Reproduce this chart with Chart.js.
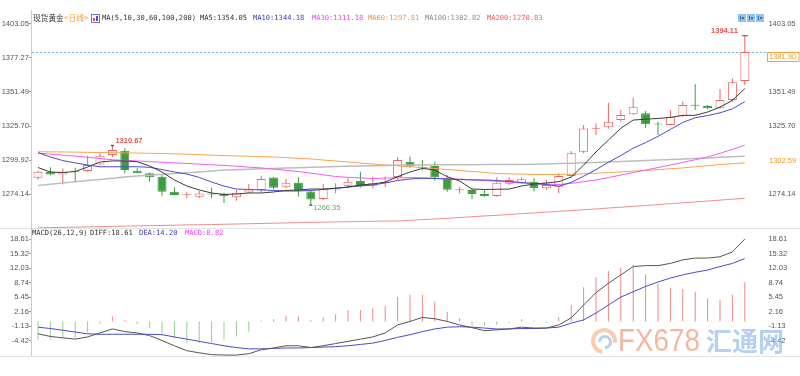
<!DOCTYPE html>
<html>
<head>
<meta charset="utf-8">
<script src="https://cdn.jsdelivr.net/npm/chart.js@4.4.1/dist/chart.umd.min.js"></script>
<style>
  html, body { margin: 0; padding: 0; background: #fff; }
  #wrap { position: relative; width: 800px; height: 376px; overflow: hidden; background: #fff; }
  #macdChart { position: absolute; left: 0; top: 217px; }
  #priceChart { position: absolute; left: 0; top: 0; }
</style>
</head>
<body>
<div id="wrap">
  <canvas id="macdChart" width="800" height="159"></canvas>
  <canvas id="priceChart" width="800" height="240"></canvas>
</div>
<script>
// daily candles
const days = Array.from({ length: 58 }, (_, i) => String(i + 1));
const slots = days.concat(['']); // one empty slot on the right

const opens = [1286.5, 1290.9, 1289.0, 1291.2, 1291.6, 1296.6, 1303.7, 1307.0, 1291.8, 1289.8,
  1287.3, 1275.9, 1273.2, 1272.1, 1274.2, 1274.4, 1271.6, 1275.3, 1277.2, 1286.6,
  1279.7, 1282.6, 1276.0, 1270.3, 1277.6, 1280.4, 1284.0, 1280.4, 1282.5, 1287.0,
  1298.6, 1294.6, 1295.4, 1286.0, 1277.0, 1277.2, 1274.1, 1272.6, 1282.0, 1282.7,
  1283.5, 1278.5, 1279.7, 1287.8, 1306.2, 1323.6, 1324.7, 1330.2, 1334.6, 1335.3,
  1327.3, 1326.5, 1333.5, 1341.6, 1340.8, 1339.6, 1345.5, 1359.8];
const highs = [1291.8, 1294.4, 1293.5, 1294.0, 1303.1, 1305.5, 1310.67, 1308.8, 1293.6, 1290.4,
  1288.5, 1279.2, 1275.9, 1276.4, 1279.0, 1275.0, 1277.4, 1281.7, 1288.0, 1287.0,
  1285.6, 1287.0, 1276.5, 1281.7, 1282.2, 1286.0, 1291.0, 1287.3, 1287.5, 1302.2,
  1302.5, 1299.9, 1298.6, 1288.5, 1279.7, 1278.2, 1277.2, 1286.8, 1286.8, 1286.8,
  1286.0, 1284.8, 1289.8, 1306.7, 1326.5, 1327.7, 1343.4, 1337.8, 1347.2, 1337.0,
  1329.0, 1337.8, 1344.1, 1357.3, 1341.6, 1353.7, 1361.8, 1394.11];
const lows = [1285.0, 1288.4, 1281.5, 1284.0, 1291.0, 1296.0, 1302.2, 1289.8, 1289.8, 1283.5,
  1272.8, 1273.0, 1270.9, 1270.9, 1270.9, 1267.3, 1269.1, 1274.7, 1275.0, 1277.5,
  1278.5, 1272.0, 1266.35, 1269.6, 1274.7, 1278.9, 1279.0, 1278.5, 1279.5, 1284.8,
  1294.0, 1292.0, 1284.2, 1275.9, 1274.7, 1270.1, 1272.0, 1272.1, 1281.0, 1281.5,
  1276.0, 1277.3, 1274.7, 1287.3, 1305.0, 1318.9, 1323.9, 1329.0, 1334.0, 1324.4,
  1318.9, 1326.0, 1332.8, 1337.8, 1338.4, 1338.7, 1344.1, 1356.8];
const closes = [1291.0, 1289.0, 1291.0, 1290.6, 1296.1, 1303.1, 1307.5, 1292.3, 1289.9, 1286.8,
  1275.9, 1273.4, 1273.5, 1274.6, 1273.7, 1272.4, 1275.1, 1277.5, 1285.6, 1278.9,
  1282.7, 1276.6, 1270.0, 1277.7, 1278.1, 1283.5, 1280.3, 1282.7, 1283.1, 1299.9,
  1295.4, 1293.6, 1286.8, 1277.3, 1277.4, 1274.1, 1272.6, 1282.7, 1284.7, 1285.3,
  1278.5, 1281.0, 1287.8, 1305.0, 1323.9, 1324.1, 1329.0, 1334.0, 1340.3, 1327.0,
  1326.8, 1332.8, 1341.6, 1341.0, 1339.1, 1345.4, 1358.8, 1381.9];

// moving averages as drawn
const ma5 = [1294.2, 1290.8, 1290.4, 1291.2, 1294.6, 1298.4, 1299.2, 1299.2, 1298.6, 1295.4,
  1290.8, 1284.8, 1280.2, 1277.2, 1274.9, 1273.8, 1274.1, 1274.9, 1274.9, 1275.7,
  1276.8, 1277.2, 1277.9, 1277.9, 1278.5, 1279.4, 1281.0, 1281.7, 1283.2, 1287.3,
  1290.8, 1293.6, 1292.3, 1287.3, 1284.0, 1277.9, 1277.6, 1277.7, 1277.9, 1280.2,
  1281.7, 1282.5, 1283.5, 1287.0, 1296.0, 1306.0, 1315.0, 1324.0, 1330.2, 1330.9,
  1331.4, 1332.2, 1333.7, 1333.8, 1336.3, 1340.0, 1345.2, 1354.05];
const ma10 = [1305.5, 1302.2, 1299.5, 1297.7, 1296.1, 1294.8, 1294.8, 1294.8, 1294.8, 1294.4,
  1292.7, 1290.8, 1289.3, 1286.7, 1283.2, 1280.2, 1277.9, 1277.6, 1277.2, 1276.8,
  1276.4, 1276.4, 1276.8, 1277.6, 1278.5, 1279.4, 1280.2, 1281.0, 1282.5, 1284.4,
  1285.5, 1286.1, 1285.9, 1285.5, 1285.1, 1284.8, 1284.8, 1284.4, 1283.6, 1282.9,
  1282.0, 1281.3, 1280.1, 1282.9, 1287.6, 1292.6, 1298.2, 1303.3, 1308.9, 1313.1,
  1317.9, 1323.1, 1328.4, 1332.0, 1333.6, 1335.7, 1338.7, 1344.18];
const ma30 = [1305.1, 1304.4, 1303.6, 1302.9, 1302.0, 1301.0, 1300.1, 1299.6, 1299.2, 1298.7,
  1298.2, 1297.8, 1297.3, 1296.8, 1296.3, 1295.8, 1295.2, 1294.5, 1293.9, 1293.0,
  1292.1, 1291.2, 1290.0, 1288.7, 1287.4, 1286.8, 1286.3, 1286.0, 1286.2, 1286.4,
  1286.6, 1286.4, 1286.1, 1285.9, 1285.4, 1284.9, 1284.4, 1283.8, 1283.1, 1282.5,
  1282.1, 1281.7, 1281.3, 1282.2, 1283.5, 1284.8, 1286.6, 1288.5, 1290.4, 1292.3,
  1294.2, 1296.1, 1298.1, 1300.1, 1302.2, 1305.0, 1308.0, 1311.18];
const ma60 = [1306.2, 1306.1, 1306.0, 1305.9, 1305.7, 1305.6, 1305.5, 1305.3, 1305.2, 1305.0,
  1304.9, 1304.6, 1304.3, 1304.0, 1303.6, 1303.3, 1303.0, 1302.8, 1302.5, 1302.2,
  1301.7, 1301.2, 1300.7, 1299.9, 1299.2, 1298.4, 1297.6, 1296.9, 1296.1, 1295.5,
  1294.8, 1294.2, 1293.5, 1292.7, 1292.0, 1291.2, 1290.5, 1289.7, 1289.4, 1289.2,
  1288.9, 1288.9, 1289.0, 1289.1, 1289.5, 1289.9, 1290.4, 1290.9, 1291.5, 1292.0,
  1292.6, 1293.3, 1293.9, 1294.8, 1295.6, 1296.5, 1297.1, 1297.81];
const ma100 = [1280.6, 1281.6, 1282.5, 1283.4, 1284.3, 1285.2, 1286.1, 1287.0, 1287.7, 1288.4,
  1289.1, 1289.7, 1290.3, 1290.9, 1291.6, 1292.3, 1292.6, 1292.9, 1293.2, 1293.5,
  1293.8, 1294.1, 1294.4, 1294.7, 1294.9, 1295.1, 1295.3, 1295.6, 1295.8, 1296.1,
  1296.2, 1296.2, 1296.3, 1296.3, 1296.4, 1296.4, 1296.5, 1296.5, 1296.6, 1296.6,
  1296.7, 1296.9, 1297.2, 1297.5, 1297.8, 1298.1, 1298.4, 1298.7, 1299.1, 1299.5,
  1299.9, 1300.3, 1300.7, 1301.1, 1301.5, 1302.0, 1302.4, 1302.82];
const ma200 = [1248.5, 1248.7, 1248.9, 1249.0, 1249.2, 1249.4, 1249.6, 1249.8, 1249.9, 1250.1,
  1250.3, 1250.5, 1250.7, 1250.8, 1251.0, 1251.2, 1251.4, 1251.6, 1251.8, 1252.0,
  1252.2, 1252.4, 1252.6, 1252.8, 1253.0, 1253.1, 1253.3, 1253.5, 1253.6, 1253.7,
  1254.2, 1254.7, 1255.2, 1255.7, 1256.3, 1256.9, 1257.5, 1258.0, 1258.6, 1259.2,
  1259.8, 1260.4, 1261.0, 1261.6, 1262.2, 1262.8, 1263.5, 1264.1, 1264.8, 1265.4,
  1266.1, 1266.8, 1267.4, 1268.1, 1268.8, 1269.5, 1270.2, 1270.83];

// MACD(26,12,9)
const diff = [-2.8, -3.4, -3.7, -4.0, -3.5, -2.6, -1.7, -2.3, -2.6, -3.2,
  -4.3, -5.5, -6.6, -7.1, -7.5, -7.6, -7.6, -7.3, -6.4, -6.0,
  -5.5, -5.5, -5.9, -5.5, -5.0, -4.5, -4.0, -3.5, -2.6, -0.8,
  0.0, 0.9, 0.6, 0.0, -0.8, -1.4, -2.1, -1.9, -1.7, -1.3,
  -1.5, -1.5, -0.8, 0.8, 3.7, 6.5, 8.6, 10.5, 12.4, 12.6,
  12.6, 13.1, 13.9, 14.3, 14.3, 14.6, 15.7, 18.61];
const dea = [-1.3, -1.6, -2.0, -2.4, -2.8, -2.9, -2.9, -2.9, -2.9, -2.9,
  -3.0, -3.5, -4.0, -4.5, -5.0, -5.5, -5.9, -6.2, -6.2, -6.1,
  -6.0, -6.0, -5.9, -5.8, -5.7, -5.5, -5.2, -4.9, -4.3, -3.6,
  -3.0, -2.3, -1.7, -1.3, -1.2, -1.3, -1.5, -1.7, -1.7, -1.6,
  -1.6, -1.5, -1.3, -0.4, 0.35, 1.9, 3.7, 5.5, 6.7, 7.9,
  8.9, 9.8, 10.5, 11.1, 11.6, 12.4, 13.1, 14.2];
const macdHist = [-4.1, -4.1, -3.8, -3.8, -2.5, -0.6, 1.1, 0.4, -0.6, -1.5,
  -2.8, -3.8, -4.9, -4.9, -4.75, -4.1, -3.4, -2.3, 0.2, 0.5,
  1.3, 1.1, 0.3, 0.9, 1.6, 2.5, 2.6, 3.0, 3.4, 5.5,
  6.0, 6.0, 4.5, 2.2, 0.7, -1.0, -1.0, -0.8, -0.4, 0.5,
  0.2, -0.3, 1.0, 3.7, 7.7, 10.0, 11.4, 12.2, 12.7, 10.6,
  8.5, 7.5, 7.3, 6.7, 5.2, 4.9, 6.0, 8.82];

// axis tick labels
const priceTicksLeft = [1274.14, 1299.92, 1325.70, 1351.49, 1377.27, 1403.05];
const priceTicksRight = [1274.14, 1325.70, 1351.49, 1403.05];
const macdTicks = [-4.42, -1.13, 2.16, 5.45, 8.74, 12.03, 15.32, 18.61];
const sideMark = 1302.59;

const RED = '#ec6464';
const GREEN = '#3f9b3f';
const MONO = "7.1px 'DejaVu Sans Mono', monospace";
const CJK = "7.7px 'Noto Sans CJK SC', sans-serif";
const axisFont = { family: "'Liberation Sans', Arial, sans-serif", size: 7.5 };

const up = opens.map((o, i) => closes[i] >= o);

function fixedTicks(values) {
  return scale => { scale.ticks = values.map(v => ({ value: v })); };
}

function leftAxis(min, max, ticks) {
  return {
    position: 'left', min: min, max: max,
    afterFit: s => { s.width = 31.8; },
    afterBuildTicks: fixedTicks(ticks),
    ticks: { autoSkip: false, padding: 0, color: '#555', font: axisFont, callback: v => Number(v).toFixed(2) },
    grid: { display: true, drawOnChartArea: false, drawTicks: true, tickLength: 3, color: '#999' },
    border: { display: true, color: '#c3ccd8', dash: [2, 2] }
  };
}

function rightAxis(min, max, ticks) {
  return {
    position: 'right', min: min, max: max,
    afterFit: s => { s.width = 36.6; },
    afterBuildTicks: fixedTicks(ticks),
    ticks: { autoSkip: false, padding: 5, color: '#555', font: axisFont, callback: v => Number(v).toFixed(2) },
    grid: { display: false, drawTicks: false },
    border: { display: false }
  };
}

function maLine(label, data, color, width) {
  return {
    type: 'line', label: label, data: data, borderColor: color, borderWidth: width || 1,
    pointRadius: 0, tension: 0, fill: false, order: 0
  };
}

function drawRun(ctx, y, parts) {
  parts.forEach(p => {
    ctx.font = p.f;
    ctx.fillStyle = p.c;
    ctx.fillText(p.t, p.x, y);
  });
}

const priceOverlay = {
  id: 'priceOverlay',
  beforeDatasetsDraw(chart) {
    const { ctx, chartArea, scales: { y } } = chart;
    const yc = Math.round(y.getPixelForValue(closes[closes.length - 1])) + 0.5;
    ctx.save();
    ctx.strokeStyle = '#6cb4ef';
    ctx.lineWidth = 1;
    ctx.setLineDash([2, 2]);
    ctx.beginPath();
    ctx.moveTo(chartArea.left, yc);
    ctx.lineTo(766, yc);
    ctx.stroke();
    ctx.restore();
  },
  afterDraw(chart) {
    const { ctx, scales: { x, y } } = chart;
    const last = closes.length - 1;
    ctx.save();
    ctx.textBaseline = 'middle';
    ctx.textAlign = 'left';

    // header line
    drawRun(ctx, 18.5, [
      { t: '现货黄金', x: 33, c: '#333', f: CJK },
      { t: '<', x: 64, c: '#f59a2f', f: MONO },
      { t: '日线', x: 68.5, c: '#f59a2f', f: CJK },
      { t: '>', x: 84, c: '#f59a2f', f: MONO },
      { t: 'MA(5,10,30,60,100,200)', x: 102, c: '#333', f: MONO },
      { t: 'MA5:' + ma5[last].toFixed(2), x: 200, c: '#333', f: MONO },
      { t: 'MA10:' + ma10[last].toFixed(2), x: 253, c: '#3c3cc4', f: MONO },
      { t: 'MA30:' + ma30[last].toFixed(2), x: 312, c: '#f040f0', f: MONO },
      { t: 'MA60:' + ma60[last].toFixed(2), x: 368, c: '#f7963a', f: MONO },
      { t: 'MA100:' + ma100[last].toFixed(2), x: 425, c: '#8c8c8c', f: MONO },
      { t: 'MA200:' + ma200[last].toFixed(2), x: 487, c: '#ec5a5a', f: MONO }
    ]);
    // small indicator icon
    ctx.fillStyle = '#7b6fd0';
    ctx.fillRect(91, 14, 9, 9);
    ctx.fillStyle = '#fff';
    ctx.fillRect(92, 15, 7, 7);
    ctx.fillStyle = '#e05050';
    ctx.fillRect(93, 18, 2, 3);
    ctx.fillStyle = '#5050c8';
    ctx.fillRect(96, 16, 2, 5);
    // toolbar icons top right
    [738, 747, 756].forEach(ix => {
      ctx.fillStyle = '#8fc3ec';
      ctx.fillRect(ix, 14, 8, 8);
      ctx.fillStyle = '#3b6fa8';
      ctx.fillRect(ix + 2, 16, 1, 4);
      ctx.fillRect(ix + 4, 17, 2, 2);
    });

    // extreme marks
    ctx.font = "bold 7.5px 'Liberation Sans', Arial, sans-serif";
    const h6 = y.getPixelForValue(highs[6]);
    const x6 = x.getPixelForValue(6);
    ctx.fillStyle = '#555';
    ctx.fillRect(x6 - 1.5, h6 - 1, 3, 1.5);
    ctx.fillStyle = '#e65050';
    ctx.fillText(highs[6].toFixed(2), x6 + 3, h6 - 5);

    const l22 = y.getPixelForValue(lows[22]);
    const x22 = x.getPixelForValue(22);
    ctx.fillStyle = '#555';
    ctx.fillRect(x22 - 1.5, l22, 3, 1.5);
    ctx.fillStyle = '#5fb25f';
    ctx.font = "7.5px 'Liberation Sans', Arial, sans-serif";
    ctx.fillText(lows[22].toFixed(2), x22 + 2.5, l22 + 4);

    const hl = y.getPixelForValue(highs[last]);
    const xl = x.getPixelForValue(last);
    ctx.fillStyle = '#555';
    ctx.fillRect(xl - 3, hl - 0.5, 6, 1);
    ctx.fillStyle = '#e65050';
    ctx.font = "bold 7.5px 'Liberation Sans', Arial, sans-serif";
    ctx.textAlign = 'right';
    ctx.fillText(highs[last].toFixed(2), xl - 7, hl - 4.5);

    // last price box and side mark on the right axis
    ctx.textAlign = 'left';
    ctx.textBaseline = 'top';
    const yc = Math.round(y.getPixelForValue(closes[last])) + 0.5;
    ctx.fillStyle = '#fff';
    ctx.fillRect(767, yc, 32, 9);
    ctx.strokeStyle = '#f3a33f';
    ctx.lineWidth = 1;
    ctx.strokeRect(767.5, yc, 31.5, 9);
    ctx.font = "7.5px 'Liberation Sans', Arial, sans-serif";
    ctx.fillStyle = '#f0962a';
    ctx.fillText(closes[last].toFixed(2), 769, yc + 1);
    ctx.fillText(sideMark.toFixed(2), 769, y.getPixelForValue(sideMark) + 0.5);
    ctx.restore();
  }
};

const OY = 217; // page offset of the MACD canvas
const macdOverlay = {
  id: 'macdOverlay',
  afterDraw(chart) {
    const { ctx } = chart;
    const last = diff.length - 1;
    ctx.save();
    ctx.strokeStyle = '#e4e4e4';
    ctx.lineWidth = 1;
    ctx.beginPath();
    ctx.moveTo(0, 228.5 - OY); ctx.lineTo(800, 228.5 - OY);
    ctx.moveTo(0, 356.5 - OY); ctx.lineTo(800, 356.5 - OY);
    ctx.stroke();

    ctx.textBaseline = 'middle';
    drawRun(ctx, 233.5 - OY, [
      { t: 'MACD(26,12,9)', x: 32, c: '#333', f: MONO },
      { t: 'DIFF:' + diff[last].toFixed(2), x: 90, c: '#333', f: MONO },
      { t: 'DEA:' + dea[last].toFixed(2), x: 139, c: '#3c3cc4', f: MONO },
      { t: 'MACD:' + macdHist[last].toFixed(2), x: 185, c: '#f040f0', f: MONO }
    ]);

    // watermark
    const cx = 604, cy = 341 - OY;
    ctx.lineWidth = 4;
    ctx.strokeStyle = 'rgba(245,160,110,0.55)';
    ctx.beginPath(); ctx.arc(cx, cy, 11, Math.PI * 0.55, Math.PI * 2.05); ctx.stroke();
    ctx.lineWidth = 3;
    ctx.strokeStyle = 'rgba(125,170,225,0.55)';
    ctx.beginPath(); ctx.arc(cx + 1, cy + 1, 5.5, Math.PI * 1.0, Math.PI * 2.5); ctx.stroke();
    const g = ctx.createLinearGradient(618, 0, 700, 0);
    g.addColorStop(0, 'rgba(248,196,150,0.75)');
    g.addColorStop(1, 'rgba(242,150,120,0.7)');
    ctx.fillStyle = g;
    ctx.font = "32px 'Liberation Sans', Arial, sans-serif";
    ctx.textAlign = 'left';
    ctx.fillText('FX678', 618, cy + 1, 82);
    ctx.fillStyle = 'rgba(150,190,232,0.7)';
    ctx.font = "bold 26px 'Noto Sans CJK SC', sans-serif";
    ctx.fillText('汇通网', 706, cy, 78);
    ctx.restore();
  }
};

const PMIN = 1248.36, PMAX = 1413.66;
new Chart(document.getElementById('priceChart'), {
  type: 'bar',
  data: {
    labels: slots,
    datasets: [
      maLine('MA5', ma5, '#3c3c3c'),
      maLine('MA10', ma10, '#4a4acb'),
      maLine('MA30', ma30, '#f25cf2'),
      maLine('MA60', ma60, '#f8a54c'),
      maLine('MA100', ma100, '#bdbdbd', 1.5),
      maLine('MA200', ma200, '#ee8c8c'),
      {
        label: 'body',
        data: opens.map((o, i) => [o, closes[i]]),
        backgroundColor: up.map(u => u ? '#fff' : GREEN),
        borderColor: up.map(u => u ? RED : GREEN),
        borderWidth: 1, borderSkipped: false, inflateAmount: 0,
        barThickness: 9, minBarLength: 1, grouped: false, order: 5
      },
      {
        label: 'wick',
        data: lows.map((l, i) => [l, highs[i]]),
        backgroundColor: up.map(u => u ? RED : GREEN),
        borderWidth: 0, inflateAmount: 0,
        barThickness: 1, grouped: false, order: 6
      }
    ]
  },
  options: {
    responsive: false, animation: false, devicePixelRatio: 1,
    layout: { padding: { top: 10, bottom: 12, left: 0, right: 0 } },
    plugins: { legend: { display: false }, tooltip: { enabled: false } },
    scales: {
      x: { display: false, offset: true },
      y: leftAxis(PMIN, PMAX, priceTicksLeft),
      y2: rightAxis(PMIN, PMAX, priceTicksRight)
    }
  },
  plugins: [priceOverlay]
});

const MMIN = -7.81, MMAX = 20.87;
new Chart(document.getElementById('macdChart'), {
  type: 'bar',
  data: {
    labels: slots,
    datasets: [
      { type: 'line', label: 'DIFF', data: diff, borderColor: '#555', borderWidth: 1, pointRadius: 0, tension: 0, order: 0 },
      { type: 'line', label: 'DEA', data: dea, borderColor: '#4a4acb', borderWidth: 1, pointRadius: 0, tension: 0, order: 1 },
      {
        label: 'MACD', data: macdHist,
        backgroundColor: macdHist.map(v => v >= 0 ? '#f08585' : '#94cf94'),
        borderWidth: 0, inflateAmount: 0, barThickness: 1, grouped: false, order: 2
      }
    ]
  },
  options: {
    responsive: false, animation: false, devicePixelRatio: 1,
    layout: { padding: { top: 12, bottom: 20, left: 0, right: 0 } },
    plugins: { legend: { display: false }, tooltip: { enabled: false } },
    scales: {
      x: { display: false, offset: true },
      y: leftAxis(MMIN, MMAX, macdTicks),
      y2: rightAxis(MMIN, MMAX, macdTicks)
    }
  },
  plugins: [macdOverlay]
});
</script>
</body>
</html>
